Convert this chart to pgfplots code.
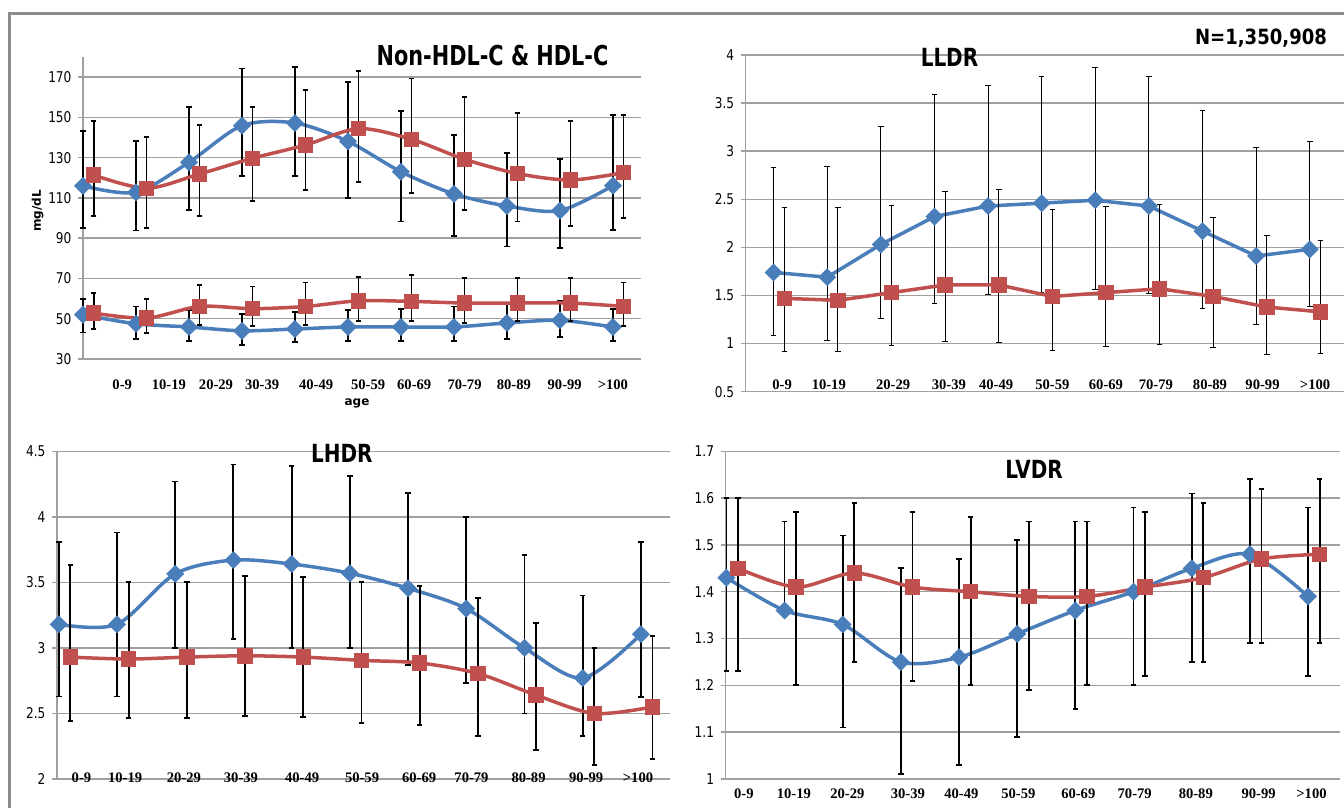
\documentclass[border=0pt]{standalone}
\usepackage{pgfplots}
\usepackage{pgfplotstable}
\pgfplotsset{compat=1.18}
\usepackage{fontspec}
\setmainfont{Liberation Serif}
\newfontfamily\dejavu{DejaVu Sans}
\definecolor{sblue}{RGB}{74,126,187}
\definecolor{sred}{RGB}{192,80,77}
\definecolor{gridgray}{RGB}{160,160,160}
\definecolor{framegray}{RGB}{140,140,140}

% ---------- data: x  mean  top  bottom ----------
\pgfplotstableread{
x y t b
0 116 143.2 95
1 112.8 138.3 93.8
2 127.7 155.3 104
3 145.9 174.3 121
4 147.2 175.1 121
5 138.1 167.4 109.8
6 123 153.3 98.3
7 112 141.1 91.2
8 106 132.3 85.9
9 103.7 129.2 85.2
10 116.1 151.2 94
}\nonhdlb
\pgfplotstableread{
x y t b
0.2 121.4 148.3 101.2
1.2 114.8 140.4 95
2.2 121.9 146.2 101.2
3.2 129.7 155.3 108.3
4.2 136.3 163.6 114
5.2 144.4 173.1 118.1
6.2 139.1 169.3 112.3
7.2 129.2 160.2 104
8.2 122.1 152 98.3
9.2 118.9 148.3 96.1
10.2 122.6 151.2 100.2
}\nonhdlr
\pgfplotstableread{
x y t b
0 52 59.9 43.2
1 47.5 56.1 39.9
2 45.9 54.5 38.9
3 44 52.5 37.1
4 44.9 53.3 38.3
5 45.9 54.5 38.9
6 45.9 55 38.9
7 45.9 56.1 38.9
8 47.9 58.1 39.9
9 49.2 58.8 40.9
10 45.9 55 38.9
}\hdlb
\pgfplotstableread{
x y t b
0.2 52.8 62.7 44.9
1.2 50.3 59.9 42.9
2.2 56.1 66.9 46.7
3.2 55 66 46.2
4.2 56.1 68 46.7
5.2 58.9 70.7 49
6.2 58.6 71.8 48.7
7.2 57.8 70.2 47.9
8.2 57.8 70.2 48.7
9.2 57.8 70.2 48.7
10.2 56.1 68 46.2
}\hdlr
\pgfplotstableread{
x y t b
0 1.74 2.83 1.08
1 1.69 2.845 1.03
2 2.03 3.26 1.26
3 2.32 3.59 1.42
4 2.43 3.68 1.51
5 2.46 3.78 1.53
6 2.49 3.87 1.56
7 2.43 3.78 1.52
8 2.17 3.42 1.37
9 1.91 3.04 1.2
10 1.98 3.1 1.39
}\lldrb
\pgfplotstableread{
x y t b
0.2 1.47 2.41 0.92
1.2 1.45 2.41 0.92
2.2 1.53 2.44 0.98
3.2 1.61 2.58 1.02
4.2 1.61 2.6 1.01
5.2 1.49 2.39 0.93
6.2 1.53 2.42 0.97
7.2 1.57 2.45 0.99
8.2 1.49 2.31 0.955
9.2 1.38 2.12 0.89
10.2 1.33 2.07 0.90
}\lldrr
\pgfplotstableread{
x y t b
0 3.18 3.81 2.63
1 3.18 3.88 2.63
2 3.565 4.27 3.0
3 3.67 4.4 3.07
4 3.64 4.385 3.0
5 3.57 4.31 3.0
6 3.455 4.18 2.87
7 3.30 4.0 2.73
8 3.0 3.71 2.5
9 2.77 3.4 2.33
10 3.105 3.81 2.625
}\lhdrb
\pgfplotstableread{
x y t b
0.2 2.93 3.635 2.445
1.2 2.915 3.50 2.465
2.2 2.93 3.50 2.465
3.2 2.94 3.55 2.48
4.2 2.93 3.54 2.47
5.2 2.905 3.50 2.43
6.2 2.885 3.47 2.41
7.2 2.805 3.38 2.33
8.2 2.64 3.19 2.22
9.2 2.50 3.0 2.105
10.2 2.55 3.09 2.15
}\lhdrr
\pgfplotstableread{
x y t b
0 1.43 1.60 1.23
1 1.36 1.55 1.36
2 1.33 1.52 1.11
3 1.25 1.45 1.01
4 1.26 1.47 1.03
5 1.31 1.51 1.09
6 1.36 1.55 1.15
7 1.40 1.58 1.20
8 1.45 1.61 1.25
9 1.48 1.64 1.29
10 1.39 1.58 1.22
}\lvdrb
\pgfplotstableread{
x y t b
0.2 1.45 1.60 1.23
1.2 1.41 1.57 1.20
2.2 1.44 1.59 1.25
3.2 1.41 1.57 1.21
4.2 1.40 1.56 1.20
5.2 1.39 1.55 1.19
6.2 1.39 1.55 1.20
7.2 1.41 1.57 1.22
8.2 1.43 1.59 1.25
9.2 1.47 1.62 1.29
10.2 1.48 1.64 1.29
}\lvdrr

\pgfplotsset{
  panel/.style={
    scale only axis, anchor=south west, clip=false,
    axis x line*=bottom, axis y line*=left,
    axis line style={gridgray, line width=0.7pt},
    ymajorgrids, grid style={gridgray, line width=0.7pt},
    xtick style={draw=none},
    ytick style={gridgray, line width=0.7pt},
    tick align=outside, major tick length=2.5pt,
    /pgf/number format/assume math mode=true,
    yticklabel style={font=\dejavu\fontsize{7.4}{8}\selectfont, xscale=0.82, anchor=east, inner sep=0pt, xshift=-3.8pt},
    xticklabel style={font=\bfseries\fontsize{7.3}{8}\selectfont, anchor=center, inner sep=0pt},
    xticklabels={0-9,10-19,20-29,30-39,40-49,50-59,60-69,70-79,80-89,90-99,>100},
  },
  ebars/.style={
    error bars/.cd, y dir=both, y explicit,
    error bar style={black, line width=#1},
    error mark options={rotate=90, black, line width=#1, mark size=1.4pt},
  },
  bser/.style={sblue, line width=1.75pt, mark=square*, mark size=2.3pt, mark options={rotate=45, solid, fill=sblue}},
  rser/.style={sred, line width=1.75pt, mark=square*, mark size=3pt, mark options={solid, fill=sred}},
  /pgfplots/table/etab/.style={x=x, y=y, y error plus expr={\thisrow{t}-\thisrow{y}}, y error minus expr={\thisrow{y}-\thisrow{b}}},
}

\begin{document}
\begin{tikzpicture}
\path[use as bounding box] (0,0) rectangle (672pt,404pt);
\draw[framegray, line width=1.5pt] (4.5pt,0) -- (4.5pt,397.25pt) -- (672pt,397.25pt);

% Panel 1: Non-HDL-C & HDL-C
\begin{axis}[panel, at={(41.5pt,224.5pt)}, width=279pt, height=151pt,
  xmin=0, xmax=10.53, ymin=30, ymax=180, ytick={30,50,70,90,110,130,150,170},
  xtick={0.74,1.62,2.51,3.38,4.4,5.38,6.25,7.2,8.13,9.09,10.0},
  xticklabel style={yshift=-10.5pt}]
\addplot[bser, smooth, ebars=0.9pt] table[etab] {\nonhdlb};
\addplot[rser, smooth, ebars=0.9pt] table[etab] {\nonhdlr};
\addplot[bser, smooth, ebars=0.9pt] table[etab] {\hdlb};
\addplot[rser, smooth, ebars=0.9pt] table[etab] {\hdlr};
\end{axis}

% Panel 2: LLDR
\begin{axis}[panel, at={(372.85pt,208.15pt)}, width=299.15pt, height=168.35pt,
  xmin=-0.52, xmax=10.64, ymin=0.5, ymax=4, ytick={0.5,1,1.5,2,2.5,3,3.5,4},
  xtick={0.16,1.03,2.23,3.27,4.15,5.2,6.2,7.13,8.14,9.12,10.1},
  xticklabel style={yshift=5.85pt}]
\addplot[bser, ebars=0.5pt] table[etab] {\lldrb};
\addplot[rser, ebars=0.5pt] table[etab] {\lldrr};
\end{axis}

% Panel 3: LHDR
\begin{axis}[panel, at={(28.5pt,14.5pt)}, width=306.5pt, height=163.85pt,
  xmin=-0.03, xmax=10.5, ymin=2, ymax=4.5, ytick={2,2.5,3,3.5,4,4.5},
  xtick={0.39,1.14,2.15,3.13,4.18,5.21,6.19,7.09,8.07,9.06,9.95},
  xticklabel style={yshift=3.35pt}]
\addplot[bser, smooth, ebars=0.9pt] table[etab] {\lhdrb};
\addplot[rser, smooth, ebars=0.9pt] table[etab] {\lhdrr};
\end{axis}

% Panel 4: LVDR
\begin{axis}[panel, at={(362.8pt,14.5pt)}, width=307.2pt, height=163.85pt,
  xmin=-0.014, xmax=10.55, ymin=1, ymax=1.7, ytick={1,1.1,1.2,1.3,1.4,1.5,1.6,1.7},
  xtick={0.3,1.16,2.08,3.12,4.04,5.02,6.05,7.02,8.07,9.15,10.06},
  xticklabel style={yshift=-5pt}]
\addplot[bser, smooth, ebars=0.9pt] table[etab] {\lvdrb};
\addplot[rser, smooth, ebars=0.9pt] table[etab] {\lvdrr};
\end{axis}

% titles and labels
\node[font=\dejavu\bfseries\fontsize{13.7}{15}\selectfont, xscale=0.76, anchor=base] at (246.25pt,371pt) {Non-HDL-C \& HDL-C};
\node[font=\dejavu\bfseries\fontsize{12.5}{14}\selectfont, xscale=0.8, anchor=base] at (474.75pt,370.65pt) {LLDR};
\node[font=\dejavu\bfseries\fontsize{10.5}{12}\selectfont, xscale=0.86, anchor=base] at (630.5pt,381.5pt) {N=1,350,908};
\node[font=\dejavu\bfseries\fontsize{12.5}{14}\selectfont, xscale=0.8, anchor=base] at (170.9pt,172.85pt) {LHDR};
\node[font=\dejavu\bfseries\fontsize{12.5}{14}\selectfont, xscale=0.8, anchor=base] at (517pt,164.5pt) {LVDR};
\node[font=\dejavu\bfseries\fontsize{6}{7}\selectfont, rotate=90] at (18.85pt,298.5pt) {mg/dL};
\node[font=\dejavu\bfseries\fontsize{6}{7}\selectfont] at (178.5pt,202.5pt) {age};
\end{tikzpicture}
\end{document}
